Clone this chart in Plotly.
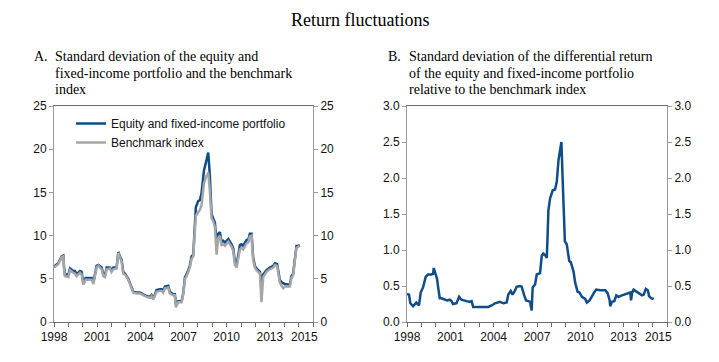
import plotly.graph_objects as go

# ---------------- Panel A data (decimal years) ----------------
a_years = [1998.00, 1998.30, 1998.53, 1998.65, 1998.69, 1998.76, 1999.00, 1999.11, 1999.34, 1999.46,
           1999.57, 1999.81, 1999.92, 2000.04, 2000.20, 2000.62, 2000.74, 2000.96, 2001.08, 2001.31,
           2001.43, 2001.54, 2001.66, 2001.88, 2002.00, 2002.12, 2002.35, 2002.47, 2002.58, 2002.70,
           2002.81, 2002.98, 2003.16, 2003.28, 2003.39, 2003.51, 2003.74, 2003.97, 2004.20, 2004.43,
           2004.66, 2004.78, 2004.90, 2005.13, 2005.36, 2005.48, 2005.59, 2005.71, 2005.94, 2006.05,
           2006.28, 2006.40, 2006.47, 2006.63, 2006.87, 2006.98, 2007.10, 2007.21, 2007.33, 2007.44,
           2007.56, 2007.68, 2007.75, 2007.86, 2008.02, 2008.14, 2008.25, 2008.42, 2008.56, 2008.72,
           2008.83, 2008.95, 2009.06, 2009.18, 2009.30, 2009.41, 2009.53, 2009.64, 2009.76, 2009.88,
           2010.11, 2010.34, 2010.46, 2010.57, 2010.69, 2010.80, 2010.92, 2011.03, 2011.15, 2011.38,
           2011.50, 2011.61, 2011.73, 2011.84, 2011.96, 2012.07, 2012.31, 2012.42, 2012.54, 2012.77,
           2013.00, 2013.24, 2013.35, 2013.51, 2013.58, 2013.69, 2013.81, 2013.93, 2014.04, 2014.39,
           2014.50, 2014.62, 2014.74, 2014.85, 2014.97, 2015.08]
a_portfolio = [6.4, 6.8, 7.6, 7.7, 6.5, 5.5, 5.5, 6.2, 5.9, 5.9,
               5.5, 5.9, 5.8, 4.5, 5.1, 5.1, 4.6, 6.5, 6.6, 6.3,
               5.5, 5.4, 6.3, 6.3, 6.0, 6.3, 6.3, 8.1, 7.6, 7.2,
               5.8, 5.5, 5.0, 4.5, 4.0, 3.5, 3.4, 3.4, 3.2, 3.0,
               2.9, 3.1, 2.7, 3.7, 3.8, 3.8, 3.6, 4.1, 4.2, 3.5,
               3.2, 3.2, 2.0, 2.4, 2.4, 3.3, 5.2, 5.5, 6.0, 6.5,
               7.6, 7.8, 10.0, 13.3, 14.0, 14.1, 14.9, 17.5, 18.5, 19.6,
               17.0, 12.5, 12.0, 11.5, 9.2, 10.2, 10.4, 9.3, 9.4, 9.2,
               9.6, 9.0, 8.5, 7.0, 6.6, 8.0, 8.9, 9.0, 8.8, 9.5,
               9.5, 10.2, 10.2, 7.5, 6.5, 6.2, 5.8, 4.6, 5.5, 6.0,
               6.3, 6.5, 6.8, 6.7, 6.0, 4.9, 4.6, 4.5, 4.4, 4.3,
               5.3, 5.6, 7.3, 8.8, 8.8, 8.9]
a_benchmark = [6.3, 6.7, 7.5, 7.6, 6.3, 5.3, 5.2, 6.0, 5.7, 5.6,
               5.3, 5.7, 5.5, 4.3, 4.9, 4.9, 4.4, 6.3, 6.5, 6.1,
               5.3, 5.2, 6.1, 6.2, 5.8, 6.1, 6.2, 8.0, 7.5, 7.0,
               5.6, 5.4, 4.9, 4.4, 3.9, 3.4, 3.3, 3.3, 3.1, 2.9,
               2.8, 3.0, 2.6, 3.5, 3.6, 3.6, 3.4, 3.9, 4.0, 3.3,
               3.1, 3.1, 1.7, 2.3, 2.3, 3.2, 5.0, 5.3, 5.8, 6.3,
               7.3, 7.6, 9.6, 12.3, 12.7, 13.0, 13.5, 16.0, 16.8, 17.3,
               15.2, 12.0, 11.7, 11.0, 7.8, 9.7, 10.0, 8.9, 9.0, 8.8,
               9.3, 8.7, 8.2, 6.6, 6.3, 7.6, 8.4, 8.6, 8.4, 9.1,
               9.2, 9.9, 10.0, 7.2, 6.3, 6.0, 5.6, 2.3, 5.2, 5.8,
               6.1, 6.3, 6.6, 6.5, 5.8, 4.6, 4.2, 3.9, 4.1, 4.1,
               5.1, 5.4, 7.1, 8.6, 8.7, 8.8]

# ---------------- Panel B data (decimal years) ----------------
b_years = [1998.00, 1998.14, 1998.23, 1998.42, 1998.65, 1998.83, 1998.95, 1999.11, 1999.30, 1999.46,
           1999.69, 1999.81, 1999.85, 1999.99, 2000.08, 2000.18, 2000.27, 2000.38, 2000.62, 2000.78,
           2000.96, 2001.08, 2001.19, 2001.43, 2001.61, 2001.77, 2002.12, 2002.35, 2002.47, 2002.58,
           2002.81, 2003.28, 2003.39, 2003.63, 2003.86, 2004.09, 2004.44, 2004.67, 2004.90, 2005.01,
           2005.18, 2005.31, 2005.48, 2005.59, 2005.82, 2005.94, 2006.10, 2006.24, 2006.40, 2006.52,
           2006.63, 2006.70, 2006.87, 2006.98, 2007.21, 2007.33, 2007.44, 2007.56, 2007.68, 2007.79,
           2007.91, 2008.09, 2008.25, 2008.37, 2008.49, 2008.69, 2008.79, 2008.93, 2009.06, 2009.23,
           2009.34, 2009.53, 2009.64, 2009.81, 2009.94, 2010.11, 2010.34, 2010.45, 2010.64, 2010.80,
           2010.99, 2011.10, 2011.38, 2011.73, 2011.89, 2012.03, 2012.07, 2012.19, 2012.35, 2012.49,
           2012.65, 2012.88, 2013.12, 2013.35, 2013.46, 2013.51, 2013.58, 2013.69, 2013.88, 2014.04,
           2014.27, 2014.39, 2014.53, 2014.67, 2014.76, 2014.90, 2015.08]
b_diff = [0.39, 0.38, 0.26, 0.22, 0.27, 0.23, 0.41, 0.48, 0.63, 0.66,
          0.66, 0.67, 0.75, 0.66, 0.60, 0.45, 0.33, 0.33, 0.31, 0.30,
          0.31, 0.29, 0.25, 0.26, 0.35, 0.31, 0.29, 0.28, 0.29, 0.21,
          0.21, 0.21, 0.20, 0.21, 0.23, 0.26, 0.28, 0.26, 0.27, 0.38,
          0.43, 0.38, 0.44, 0.49, 0.50, 0.49, 0.38, 0.30, 0.29, 0.28,
          0.16, 0.48, 0.52, 0.66, 0.68, 0.92, 0.95, 0.93, 0.89, 1.55,
          1.72, 1.83, 1.84, 1.95, 2.25, 2.50, 1.90, 1.12, 1.08, 0.85,
          0.83, 0.70, 0.55, 0.42, 0.41, 0.35, 0.32, 0.27, 0.30, 0.36,
          0.42, 0.45, 0.44, 0.44, 0.40, 0.30, 0.22, 0.28, 0.29, 0.37,
          0.35, 0.37, 0.39, 0.41, 0.41, 0.30, 0.40, 0.45, 0.42, 0.40,
          0.37, 0.38, 0.46, 0.44, 0.36, 0.33, 0.32]

# ---------------- Axis labels ----------------
x_tick_vals = [1998, 2001, 2004, 2007, 2010, 2013, 2015.4]
x_tick_text = ["1998", "2001", "2004", "2007", "2010", "2013", "2015"]
a_y_ticks = [0, 5, 10, 15, 20, 25]
b_y_ticks = [0.0, 0.5, 1.0, 1.5, 2.0, 2.5, 3.0]

BLUE = "#0F4C8A"
GRAY = "#A6A6A6"
W, H = 719, 362
SANS = "Liberation Sans, Arial, sans-serif"
SERIF = "Liberation Serif, Times New Roman, serif"

fig = go.Figure()
fig.add_trace(go.Scatter(x=a_years, y=a_portfolio, mode="lines", name="Equity and fixed-income portfolio",
                         line=dict(color=BLUE, width=2.5), xaxis="x", yaxis="y"))
fig.add_trace(go.Scatter(x=a_years, y=a_benchmark, mode="lines", name="Benchmark index",
                         line=dict(color=GRAY, width=2.5), xaxis="x", yaxis="y"))
fig.add_trace(go.Scatter(x=[], y=[], showlegend=False, xaxis="x", yaxis="y2"))
fig.add_trace(go.Scatter(x=b_years, y=b_diff, mode="lines", showlegend=False,
                         line=dict(color=BLUE, width=2.5), xaxis="x2", yaxis="y3"))
fig.add_trace(go.Scatter(x=[], y=[], showlegend=False, xaxis="x2", yaxis="y4"))

y_dom = [(H - 322) / H, (H - 106) / H]

def xax(dom, anchor):
    return dict(domain=dom, anchor=anchor, range=[1998, 2016], tickmode="array", automargin=False,
                tickvals=x_tick_vals, ticktext=x_tick_text, ticks="outside", ticklen=4,
                tickcolor="rgba(0,0,0,0)", showline=True, linecolor="#6b6b6b", linewidth=1,
                mirror=True, showgrid=False, zeroline=False,
                tickfont=dict(family=SANS, size=12, color="#111"),
                minor=dict(ticks="outside", tickmode="linear", tick0=1998, dtick=1, ticklen=4,
                           tickcolor="#6b6b6b", showgrid=False))

def yax(rng, vals, fmt, anchor, side, overlay=None):
    d = dict(domain=y_dom, anchor=anchor, range=rng, tickmode="array", tickvals=vals, automargin=False,
             tickformat=fmt, side=side, ticks="outside", ticklen=4, tickcolor="#9a9a9a",
             showline=True, linecolor="#9a9a9a", linewidth=1, showgrid=False, zeroline=False,
             tickfont=dict(family=SANS, size=12, color="#111"))
    if overlay:
        d["overlaying"] = overlay
    return d

fig.update_layout(
    width=W, height=H,
    margin=dict(l=0, r=0, t=0, b=0, pad=0),
    paper_bgcolor="white", plot_bgcolor="white",
    showlegend=True,
    legend=dict(x=71 / W, y=1 - 109 / H, xanchor="left", yanchor="top",
                bgcolor="rgba(0,0,0,0)", font=dict(family=SANS, size=12, color="#111"),
                tracegroupgap=0),
    xaxis=xax([54 / W, 313 / W], "y"),
    yaxis=yax([0, 25], a_y_ticks, "d", "x", "left"),
    yaxis2=yax([0, 25], a_y_ticks, "d", "x", "right", overlay="y"),
    xaxis2=xax([407 / W, 667 / W], "y3"),
    yaxis3=yax([0, 3], b_y_ticks, ".1f", "x2", "left"),
    yaxis4=yax([0, 3], b_y_ticks, ".1f", "x2", "right", overlay="y3"),
)

def ann(text, xpx, ypx, size=14, xanchor="left"):
    fig.add_annotation(text=text, x=xpx / W, y=1 - ypx / H, xref="paper", yref="paper",
                       xanchor=xanchor, yanchor="middle", showarrow=False,
                       font=dict(family=SERIF, size=size, color="#000"))

ann("Return fluctuations", 360, 20, size=18, xanchor="center")
ann("A.", 32, 56)
ann("Standard deviation of the equity and", 53, 56)
ann("fixed-income portfolio and the benchmark", 53, 73)
ann("index", 53, 89)
ann("B.", 386, 56)
ann("Standard deviation of the differential return", 407, 56)
ann("of the equity and fixed-income portfolio", 407, 73)
ann("relative to the benchmark index", 407, 89)

fig.write_html("out.html", config={"displayModeBar": False},
               post_script="document.body.style.margin='0';document.body.style.padding='0';")
